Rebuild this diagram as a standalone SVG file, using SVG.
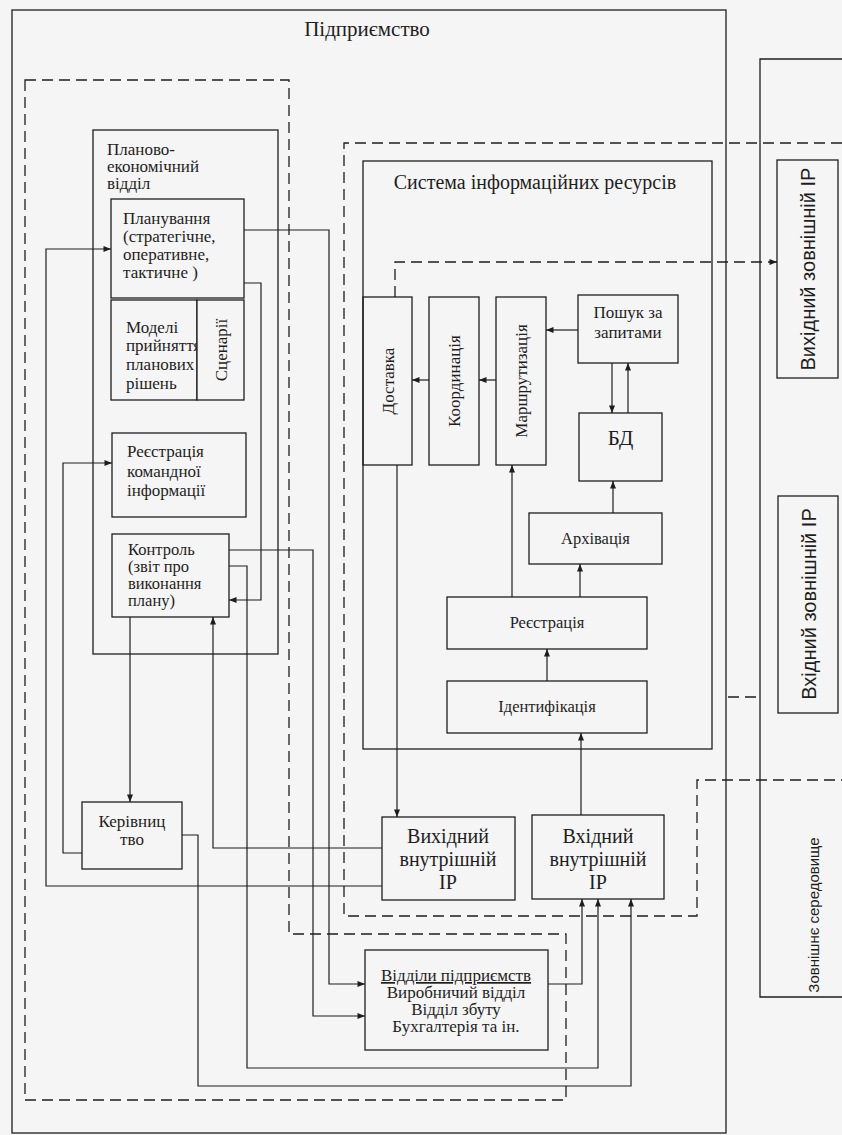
<svg xmlns="http://www.w3.org/2000/svg" width="842" height="1135" viewBox="0 0 842 1135">
<style>
.bg{fill:#f5f5f5}
.box{fill:none;stroke:#1e1e1e;stroke-width:1.3}
.fbox{fill:#f5f5f5;stroke:#1e1e1e;stroke-width:1.3}
.ln{fill:none;stroke:#1e1e1e;stroke-width:1.2}
.dsh{fill:none;stroke:#1e1e1e;stroke-width:1.3;stroke-dasharray:11 6}
.t{font-family:"Liberation Serif","DejaVu Serif",serif;fill:#1e1e1e;font-size:16.5px}
.tc{text-anchor:middle}
.big{font-size:20px}
.s{font-family:"Liberation Sans","DejaVu Sans",sans-serif;fill:#1e1e1e;font-size:20px;text-anchor:middle;dominant-baseline:central}
.r{text-anchor:middle;dominant-baseline:central;font-size:17px}
</style>
<defs>
<marker id="ah" viewBox="0 0 10 8" refX="10" refY="4" markerWidth="8" markerHeight="6" orient="auto" markerUnits="userSpaceOnUse">
<path d="M0,0 L10,4 L0,8 z" fill="#1e1e1e"/>
</marker>
</defs>
<rect class="bg" x="0" y="0" width="842" height="1135"/>

<g id="enterprise">
<rect class="box" x="12" y="10" width="714" height="1123"/>
<text class="t tc" x="367" y="36" style="font-size:21px">Підприємство</text>
</g>

<g id="boundaries">
<path class="dsh" d="M25,80 H289 V934 H566 V1100 H25 Z"/>
<path class="dsh" d="M842,143 H344 V916 H697 V780 H842"/>
<path class="dsh" d="M728,697 H762"/>
</g>

<g id="environment">
<path class="box" d="M842,59 H760 V997 H842"/>
<text class="s" style="font-size:15px" transform="rotate(-90 813 915)" x="813" y="915">Зовнішнє середовище</text>
</g>

<g id="out-ext">
<rect class="box" x="777" y="160" width="61" height="218"/>
<text class="s" transform="rotate(-90 808 269)" x="808" y="269">Вихідний зовнішній IP</text>
</g>

<g id="in-ext">
<rect class="box" x="778" y="496" width="60" height="217"/>
<text class="s" transform="rotate(-90 809 604)" x="809" y="604">Вхідний зовнішній IP</text>
</g>

<g id="plan-dept">
<rect class="box" x="93" y="130" width="185" height="524"/>
<text class="t" style="font-size:17px" x="107"><tspan x="107" y="155">Планово-</tspan><tspan x="107" y="172">економічний</tspan><tspan x="107" y="189">відділ</tspan></text>
</g>

<g id="planning">
<rect class="box" x="111" y="199" width="133" height="99"/>
<text class="t" style="font-size:17px" x="123"><tspan x="123" y="224">Планування</tspan><tspan x="123" y="242">(стратегічне,</tspan><tspan x="123" y="260">оперативне,</tspan><tspan x="123" y="278">тактичне )</tspan></text>
</g>

<g id="models">
<rect class="box" x="111" y="300" width="86" height="100"/>
<text class="t" style="font-size:17px" x="126"><tspan x="126" y="333">Моделі</tspan><tspan x="126" y="351">прийняття</tspan><tspan x="126" y="370">планових</tspan><tspan x="126" y="389">рішень</tspan></text>
</g>

<g id="scenarios">
<rect class="fbox" x="197" y="300" width="47" height="100"/>
<text class="t r" transform="rotate(-90 221 350)" x="221" y="350">Сценарії</text>
</g>

<g id="cmd-reg">
<rect class="box" x="112" y="433" width="134" height="84"/>
<text class="t" style="font-size:17px" x="127"><tspan x="127" y="457">Реєстрація</tspan><tspan x="127" y="477">командної</tspan><tspan x="127" y="496">інформації</tspan></text>
</g>

<g id="control">
<rect class="box" x="112" y="534" width="117" height="83"/>
<text class="t" x="128"><tspan x="128" y="555">Контроль</tspan><tspan x="128" y="572">(звіт про</tspan><tspan x="128" y="589">виконання</tspan><tspan x="128" y="606">плану)</tspan></text>
</g>

<g id="management">
<rect class="box" x="82" y="802" width="100" height="67"/>
<text class="t tc" style="font-size:17px" x="132"><tspan x="132" y="827">Керівниц</tspan><tspan x="132" y="845">тво</tspan></text>
</g>

<g id="info-system">
<rect class="box" x="363" y="161" width="349" height="588"/>
<text class="t tc" style="font-size:20px" x="535" y="189">Система інформаційних ресурсів</text>
</g>

<g id="delivery">
<rect class="box" x="363" y="297" width="49" height="168"/>
<text class="t r" transform="rotate(-90 388 381)" x="388" y="381">Доставка</text>
</g>

<g id="coordination">
<rect class="box" x="429" y="297" width="50" height="168"/>
<text class="t r" transform="rotate(-90 454 381)" x="454" y="381">Координація</text>
</g>

<g id="routing">
<rect class="box" x="496" y="297" width="50" height="168"/>
<text class="t r" transform="rotate(-90 521 381)" x="521" y="381">Маршрутизація</text>
</g>

<g id="search">
<rect class="box" x="578" y="295" width="100" height="68"/>
<text class="t tc" style="font-size:17px" x="628"><tspan x="628" y="318">Пошук за</tspan><tspan x="628" y="338">запитами</tspan></text>
</g>

<g id="db">
<rect class="box" x="579" y="413" width="83" height="68"/>
<text class="t tc" style="font-size:21px" x="620.5" y="445">БД</text>
</g>

<g id="archive">
<rect class="box" x="529" y="513" width="133" height="51"/>
<text class="t tc" x="595.5" y="544">Архівація</text>
</g>

<g id="registration">
<rect class="box" x="447" y="597" width="200" height="52"/>
<text class="t tc" x="547" y="628">Реєстрація</text>
</g>

<g id="identification">
<rect class="box" x="447" y="681" width="200" height="52"/>
<text class="t tc" x="547" y="712">Ідентифікація</text>
</g>

<g id="out-int">
<rect class="box" x="382" y="817" width="133" height="83"/>
<text class="t tc big" x="448"><tspan x="448" y="843">Вихідний</tspan><tspan x="448" y="866">внутрішній</tspan><tspan x="448" y="889">IP</tspan></text>
</g>

<g id="in-int">
<rect class="box" x="532" y="815" width="132" height="84"/>
<text class="t tc big" x="598"><tspan x="598" y="843">Вхідний</tspan><tspan x="598" y="866">внутрішній</tspan><tspan x="598" y="889">IP</tspan></text>
</g>

<g id="departments">
<rect class="box" x="365" y="950" width="183" height="100"/>
<text class="t tc" style="font-size:17px" x="456"><tspan x="456" y="981" text-decoration="underline">Відділи підприємств</tspan><tspan x="456" y="998">Виробничий відділ</tspan><tspan x="456" y="1015">Відділ збуту</tspan><tspan x="456" y="1032">Бухгалтерія та ін.</tspan></text>
</g>

<g id="connectors">
<path class="ln" marker-end="url(#ah)" d="M578,330 H546"/>
<path class="ln" marker-end="url(#ah)" d="M496,380 H479"/>
<path class="ln" marker-end="url(#ah)" d="M429,380 H412"/>
<path class="ln" marker-end="url(#ah)" d="M612,363 V413"/>
<path class="ln" marker-end="url(#ah)" d="M628,413 V363"/>
<path class="ln" marker-end="url(#ah)" d="M613,513 V481"/>
<path class="ln" marker-end="url(#ah)" d="M580,597 V564"/>
<path class="ln" marker-end="url(#ah)" d="M512,597 V465"/>
<path class="ln" marker-end="url(#ah)" d="M547,681 V649"/>
<path class="ln" marker-end="url(#ah)" d="M581,815 V733"/>
<path class="ln" marker-end="url(#ah)" d="M397,465 V817"/>
<path class="dsh" marker-end="url(#ah)" d="M395,297 V262 H777"/>
<path class="ln" marker-end="url(#ah)" d="M382,886 H46 V249 H111"/>
<path class="ln" marker-end="url(#ah)" d="M382,848 H213 V617"/>
<path class="ln" marker-end="url(#ah)" d="M82,853 H63 V463 H112"/>
<path class="ln" marker-end="url(#ah)" d="M130,617 V802"/>
<path class="ln" marker-end="url(#ah)" d="M244,283 H261 V600 H229"/>
<path class="ln" marker-end="url(#ah)" d="M244,230 H329 V984 H365"/>
<path class="ln" marker-end="url(#ah)" d="M229,550 H313 V1016 H365"/>
<path class="ln" marker-end="url(#ah)" d="M229,566 H247 V1068 H598 V899"/>
<path class="ln" marker-end="url(#ah)" d="M182,835 H198 V1086 H631 V899"/>
<path class="ln" marker-end="url(#ah)" d="M548,984 H582 V899"/>
</g>
</svg>
